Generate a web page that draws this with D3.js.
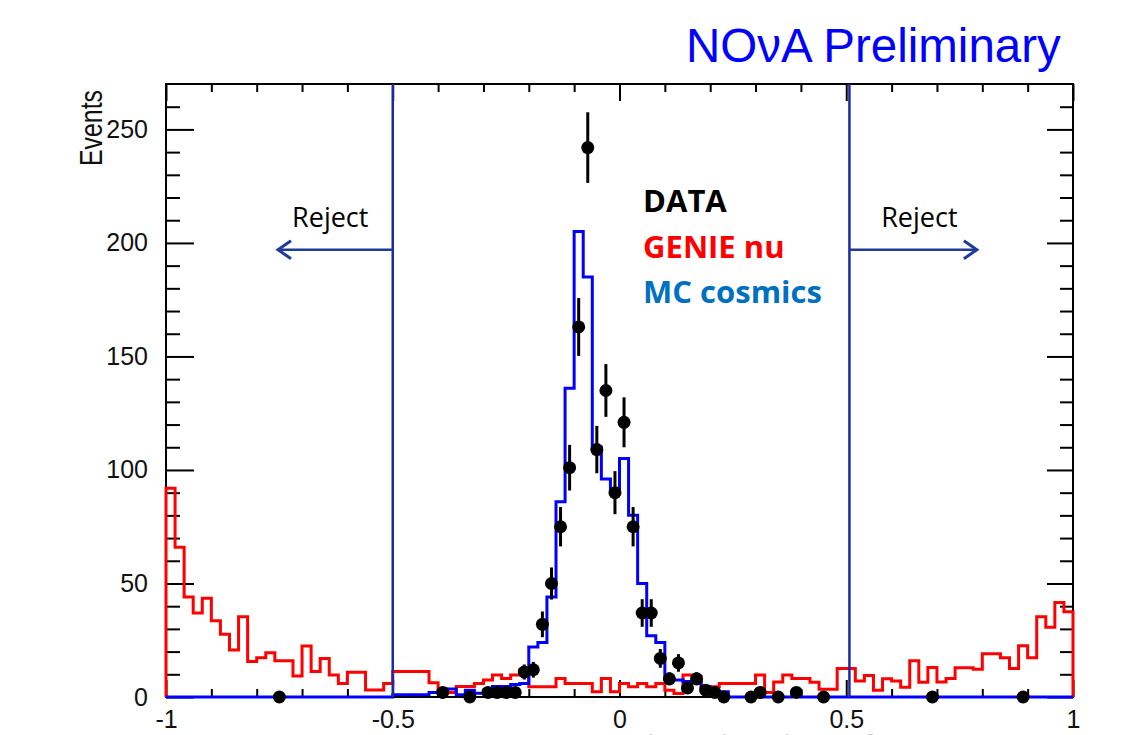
<!DOCTYPE html>
<html>
<head>
<meta charset="utf-8">
<script src="https://cdn.jsdelivr.net/npm/d3@7"></script>
<style>
  body { margin: 0; background: #ffffff; }
</style>
</head>
<body>
<div id="vis1"></div>
<script>
// Bin contents, 100 bins of width 0.02 between -1 and 1
const GENIE_NU = [
  92, 66, 44, 37, 43.5, 33.6, 27.6, 20.7, 35.4, 15.6,
  17.3, 19.5, 16, 16, 9.3, 22.5, 11.2, 17, 9.7, 6,
  10.9, 10.9, 3.1, 3.1, 6, 11.2, 11.2, 11.2, 11.2, 6.3,
  3.5, 2, 4.6, 4.6, 6, 7.5, 9.7, 8.2, 9.7, 12,
  4.5, 4.5, 4.5, 8.2, 6, 6, 6, 2.3, 8.2, 2.3,
  6, 4.5, 6, 4.5, 6, 3, 1.5, 9.7, 9, 4.5,
  4.5, 6, 6, 6, 6, 9.7, 2, 6.6, 9.7, 8.2,
  8.2, 6.5, 3.4, 3.4, 12.5, 12.5, 7, 9.5, 3, 8,
  7, 4.3, 16, 6.5, 13, 6.6, 8.2, 12.9, 12.9, 12.2,
  19, 19, 17.3, 12.6, 22.6, 17.3, 35.4, 30.7, 41.6, 37.6
];

const MC_COSMICS = [
  0, 0, 0, 0, 0, 0, 0, 0, 0, 0,
  0, 0, 0, 0, 0, 0, 0, 0, 0, 0,
  0, 0, 0, 0, 0, 1, 1, 1, 1, 2,
  2, 3.5, 1, 3, 1.6, 3, 4.6, 4.6, 5.5, 6,
  22, 24, 44, 86, 136, 205, 185, 110, 96, 91,
  105, 80, 50, 27, 24, 7.8, 7.5, 6.8, 6.8, 4.5,
  2.5, 2.3, 0, 0, 0, 0, 0, 0, 0, 1,
  0, 0, 0, 0, 0, 0, 0, 0, 0, 0,
  0, 0, 0, 0, 0, 0, 0, 0, 0, 0,
  0, 0, 0, 0, 0, 0, 0, 0, 0, 0
];

// Data points: bin centre and number of events
const DATA_X = [-0.75, -0.39, -0.33, -0.29, -0.27, -0.25, -0.23, -0.21, -0.19, -0.17,
                -0.15, -0.13, -0.11, -0.09, -0.07, -0.05, -0.03, -0.01, 0.01, 0.03,
                0.05, 0.07, 0.09, 0.11, 0.13, 0.15, 0.17, 0.19, 0.21, 0.23,
                0.29, 0.31, 0.35, 0.39, 0.45, 0.69, 0.89];
const DATA_Y = [0, 2, 0, 2, 2, 2, 2, 11, 12, 32,
                50, 75, 101, 163, 242, 109, 135, 90, 121, 75,
                37, 37, 17, 8, 15, 4, 8, 3, 2, 0,
                0, 2, 0, 2, 0, 0, 0];

// Cut values and reject arrows
const CUTS = [-0.5, 0.507];
const ARROW_TIPS = [-0.753, 0.788];
const ARROW_LEVEL = 197;
const REJECT_X = [-0.722, 0.577];
const REJECT_LEVEL = 207;

// Legend labels
const LEGEND_LABELS = ["DATA", "GENIE nu", "MC cosmics"];
const LEGEND_COLORS = ["#000000", "#ff0000", "#0070c0"];
const LEGEND_LEVELS = [213.5, 193.5, 173.5];
const LEGEND_X = 0.052;

// Tick values
const X_MAJOR = [-1, -0.5, 0, 0.5, 1];
const X_MINOR = [-0.9, -0.8, -0.7, -0.6, -0.4, -0.3, -0.2, -0.1, 0.1, 0.2, 0.3, 0.4, 0.6, 0.7, 0.8, 0.9];
const Y_MAJOR = [0, 50, 100, 150, 200, 250];
const Y_MINOR = [10, 20, 30, 40, 60, 70, 80, 90, 110, 120, 130, 140, 160, 170, 180, 190, 210, 220, 230, 240, 260];

// Set frame dimensions
const FRAME_HEIGHT = 735;
const FRAME_WIDTH = 1134;
const MARGINS = {left: 166, right: 61, top: 84, bottom: 38};
const VIS_HEIGHT = FRAME_HEIGHT - MARGINS.top - MARGINS.bottom;
const VIS_WIDTH = FRAME_WIDTH - MARGINS.left - MARGINS.right;

const FRAME1 = d3.select("#vis1")
                 .append("svg")
                 .attr("height", FRAME_HEIGHT)
                 .attr("width", FRAME_WIDTH)
                 .style("display", "block")
                 .style("background", "#ffffff");

const X_SCALE = d3.scaleLinear().domain([-1, 1]).range([MARGINS.left, MARGINS.left + VIS_WIDTH]);
const Y_SCALE = d3.scaleLinear().domain([0, 270]).range([MARGINS.top + VIS_HEIGHT, MARGINS.top]);

const BIN_EDGES = d3.range(GENIE_NU.length + 1).map(i => -1 + i * 0.02);

const AXIS_FONT = "'Liberation Sans', Arial, sans-serif";

function styleAxis(g) {
  g.select(".domain").remove();
  g.selectAll(".tick line").attr("stroke", "#000").attr("stroke-width", 2);
  g.attr("font-family", AXIS_FONT).attr("font-size", 25);
  g.selectAll(".tick text").attr("fill", "#111");
}

// X axis title, mostly cut off at the bottom edge
FRAME1.append("text")
      .attr("x", 730)
      .attr("y", 753)
      .attr("text-anchor", "middle")
      .attr("font-family", AXIS_FONT)
      .attr("font-size", 25)
      .attr("fill", "#cccccc")
      .text("Cosmic Track Angle, cos θ");

// Add Y axis (left) with labels
FRAME1.append("g")
      .attr("transform", "translate(" + MARGINS.left + ",0)")
      .call(d3.axisLeft(Y_SCALE).tickValues(Y_MAJOR).tickSize(-28).tickPadding(18).tickFormat(d => String(d)))
      .call(styleAxis);
FRAME1.append("g")
      .attr("transform", "translate(" + MARGINS.left + ",0)")
      .call(d3.axisLeft(Y_SCALE).tickValues(Y_MINOR).tickSize(-14).tickFormat(""))
      .call(styleAxis);

// Right side ticks
FRAME1.append("g")
      .attr("transform", "translate(" + (MARGINS.left + VIS_WIDTH) + ",0)")
      .call(d3.axisRight(Y_SCALE).tickValues(Y_MAJOR).tickSize(-26).tickFormat(""))
      .call(styleAxis);
FRAME1.append("g")
      .attr("transform", "translate(" + (MARGINS.left + VIS_WIDTH) + ",0)")
      .call(d3.axisRight(Y_SCALE).tickValues(Y_MINOR).tickSize(-13).tickFormat(""))
      .call(styleAxis);

// Add X axis (bottom) with labels
FRAME1.append("g")
      .attr("transform", "translate(0," + (MARGINS.top + VIS_HEIGHT) + ")")
      .call(d3.axisBottom(X_SCALE).tickValues(X_MAJOR).tickSize(-17).tickPadding(13).tickFormat(d => String(d)))
      .call(styleAxis);
FRAME1.append("g")
      .attr("transform", "translate(0," + (MARGINS.top + VIS_HEIGHT) + ")")
      .call(d3.axisBottom(X_SCALE).tickValues(X_MINOR).tickSize(-8).tickFormat(""))
      .call(styleAxis);

// Top ticks
FRAME1.append("g")
      .attr("transform", "translate(0," + MARGINS.top + ")")
      .call(d3.axisTop(X_SCALE).tickValues(X_MAJOR).tickSize(-17).tickFormat(""))
      .call(styleAxis);
FRAME1.append("g")
      .attr("transform", "translate(0," + MARGINS.top + ")")
      .call(d3.axisTop(X_SCALE).tickValues(X_MINOR).tickSize(-8).tickFormat(""))
      .call(styleAxis);

// Frame box
FRAME1.append("rect")
      .attr("x", MARGINS.left)
      .attr("y", MARGINS.top)
      .attr("width", VIS_WIDTH)
      .attr("height", VIS_HEIGHT)
      .attr("fill", "none")
      .attr("stroke", "#000")
      .attr("stroke-width", 2);

// Y axis title
FRAME1.append("text")
      .attr("transform", "translate(102," + MARGINS.top + ") rotate(-90)")
      .attr("text-anchor", "end")
      .attr("dx", -6)
      .attr("font-family", AXIS_FONT)
      .attr("font-size", 31)
      .attr("textLength", 76)
      .attr("lengthAdjust", "spacingAndGlyphs")
      .attr("fill", "#111")
      .text("Events");

// Histogram outline
function histPoints(vals) {
  const pts = [[BIN_EDGES[0], 0]];
  vals.forEach((v, i) => {
    pts.push([BIN_EDGES[i], v]);
    pts.push([BIN_EDGES[i + 1], v]);
  });
  pts.push([BIN_EDGES[vals.length], 0]);
  return pts;
}

const histLine = d3.line()
                   .x(d => X_SCALE(d[0]))
                   .y(d => Y_SCALE(d[1]));

FRAME1.append("path")
      .attr("d", histLine(histPoints(GENIE_NU)))
      .attr("fill", "none")
      .attr("stroke", "#ff0000")
      .attr("stroke-width", 3);

FRAME1.append("path")
      .attr("d", histLine(histPoints(MC_COSMICS)))
      .attr("fill", "none")
      .attr("stroke", "#0000ff")
      .attr("stroke-width", 3);

// Cut lines
FRAME1.selectAll(".cut")
      .data(CUTS)
      .enter()
      .append("line")
      .attr("class", "cut")
      .attr("x1", d => X_SCALE(d))
      .attr("x2", d => X_SCALE(d))
      .attr("y1", Y_SCALE(270))
      .attr("y2", Y_SCALE(0))
      .attr("stroke", "#1c2aa6")
      .attr("stroke-width", 2.5);

// Reject arrows
const ARROW_COLOR = "#1f3c98";
CUTS.forEach((c, i) => {
  const tip = X_SCALE(ARROW_TIPS[i]);
  const yy = Y_SCALE(ARROW_LEVEL);
  const dir = ARROW_TIPS[i] < c ? 1 : -1;
  FRAME1.append("line")
        .attr("x1", X_SCALE(c))
        .attr("x2", tip)
        .attr("y1", yy)
        .attr("y2", yy)
        .attr("stroke", ARROW_COLOR)
        .attr("stroke-width", 2.5);
  FRAME1.append("polyline")
        .attr("points", [[tip + dir * 13, yy - 9], [tip, yy], [tip + dir * 13, yy + 9]].map(p => p.join(",")).join(" "))
        .attr("fill", "none")
        .attr("stroke", ARROW_COLOR)
        .attr("stroke-width", 3)
        .attr("stroke-linejoin", "miter");
  FRAME1.append("text")
        .attr("x", X_SCALE(REJECT_X[i]))
        .attr("y", Y_SCALE(REJECT_LEVEL))
        .attr("font-family", "'Open Sans', sans-serif")
        .attr("font-size", 27)
        .attr("fill", "#000")
        .text("Reject");
});

// Data points with error bars
const points = DATA_X.map((x, i) => ({x: x, y: DATA_Y[i]}));

FRAME1.selectAll(".err")
      .data(points)
      .enter()
      .append("line")
      .attr("class", "err")
      .attr("x1", d => X_SCALE(d.x))
      .attr("x2", d => X_SCALE(d.x))
      .attr("y1", d => Y_SCALE(d.y - Math.sqrt(d.y)))
      .attr("y2", d => Y_SCALE(d.y + Math.sqrt(d.y)))
      .attr("stroke", "#000")
      .attr("stroke-width", 3);

FRAME1.selectAll(".pt")
      .data(points)
      .enter()
      .append("circle")
      .attr("class", "pt")
      .attr("cx", d => X_SCALE(d.x))
      .attr("cy", d => Y_SCALE(d.y))
      .attr("r", 6.5)
      .attr("fill", "#000");

// Legend
FRAME1.selectAll(".legend")
      .data(LEGEND_LABELS)
      .enter()
      .append("text")
      .attr("class", "legend")
      .attr("x", X_SCALE(LEGEND_X))
      .attr("y", (d, i) => Y_SCALE(LEGEND_LEVELS[i]))
      .attr("font-family", "'Open Sans', sans-serif")
      .attr("font-weight", "bold")
      .attr("font-size", 31)
      .attr("fill", (d, i) => LEGEND_COLORS[i])
      .text(d => d);

// Title
FRAME1.append("text")
      .attr("x", 686)
      .attr("y", 62)
      .attr("font-family", AXIS_FONT)
      .attr("font-size", 47.5)
      .attr("fill", "#0000ff")
      .text("NOνA Preliminary");
</script>
</body>
</html>
